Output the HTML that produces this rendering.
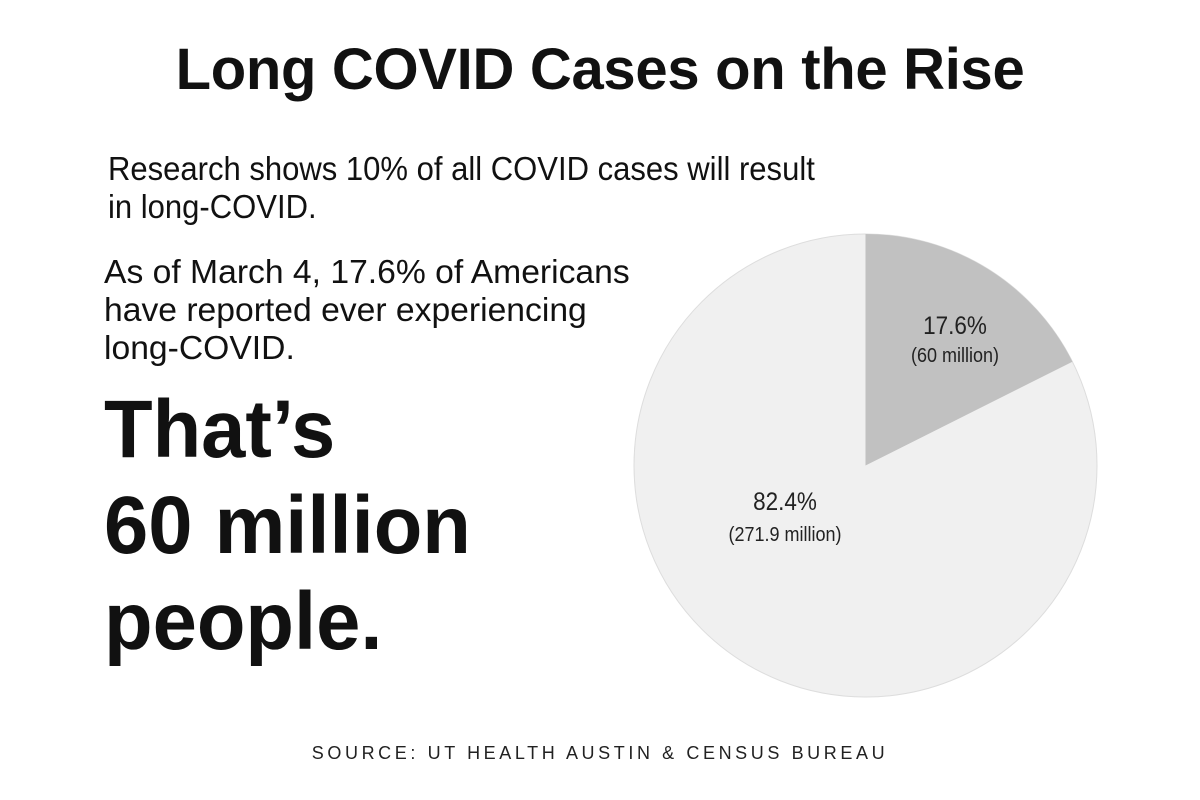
<!DOCTYPE html>
<html><head><meta charset="utf-8"><style>
body{margin:0;width:1200px;height:800px;background:#fff;position:relative;overflow:hidden;font-family:"Liberation Sans",sans-serif;color:#111}
.t{position:absolute;white-space:nowrap;transform-origin:0 0}
</style></head><body>
<div class="t" style="left:0;width:1200px;text-align:center;top:36px;font-size:58px;font-weight:bold;letter-spacing:-0.3px">Long COVID Cases on the Rise</div>
<div class="t" style="left:108px;top:150px;font-size:33px;line-height:38px;transform:scaleX(0.94)">Research shows 10% of all COVID cases will result<br>in long-COVID.</div>
<div class="t" style="left:104px;top:253px;font-size:33px;line-height:38px;transform:scaleX(1.02)">As of March 4, 17.6% of Americans<br>have reported ever experiencing<br>long-COVID.</div>
<div class="t" style="left:104px;top:382px;font-size:82px;font-weight:bold;line-height:96px;transform:scaleX(0.97)">That’s<br>60 million<br>people.</div>
<svg class="t" style="left:0;top:0" width="1200" height="800">
<circle cx="865.5" cy="465.5" r="231.5" fill="#f0f0f0" stroke="#ddd" stroke-width="1"/>
<path d="M865.5,465.5 L865.5,234 A231.5,231.5 0 0 1 1072.4,361.7 Z" fill="#c1c1c1"/>
<g font-family="Liberation Sans, sans-serif" text-anchor="middle" fill="#222">
<text x="955" y="334" font-size="25" transform="translate(955 0) scale(0.9 1) translate(-955 0)">17.6%</text>
<text x="955" y="362" font-size="20" transform="translate(955 0) scale(0.9 1) translate(-955 0)">(60 million)</text>
<text x="785" y="510" font-size="25" transform="translate(785 0) scale(0.9 1) translate(-785 0)">82.4%</text>
<text x="785" y="541" font-size="20" transform="translate(785 0) scale(0.9 1) translate(-785 0)">(271.9 million)</text>
</g>
<text x="600" y="759" text-anchor="middle" font-family="Liberation Sans, sans-serif" font-size="18" letter-spacing="3.6" fill="#222">SOURCE: UT HEALTH AUSTIN &amp; CENSUS BUREAU</text>
</svg>
</body></html>
